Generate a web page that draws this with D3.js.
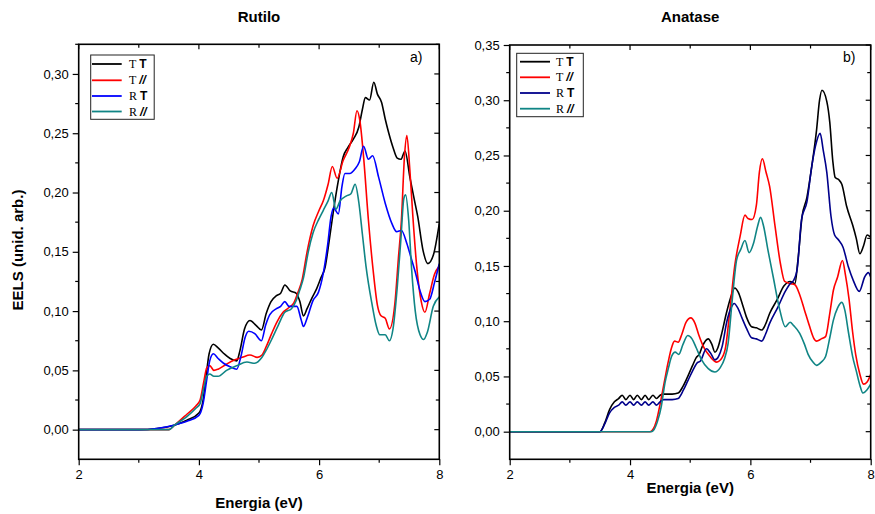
<!DOCTYPE html>
<html><head><meta charset="utf-8">
<script src="https://cdn.jsdelivr.net/npm/d3@7"></script>
<style>body{margin:0;background:#fff}svg{display:block}text{font-family:"Liberation Sans",Arial,sans-serif}</style>
</head><body>
<svg id="c" width="875" height="514"></svg>
<script>
// ---------- DATA ----------
const panelTitles = ["Rutilo", "Anatase"];
const panelTags = ["a)", "b)"];
const xTicks = [2, 4, 6, 8];
const yTicksRutilo = [0, 0.05, 0.10, 0.15, 0.20, 0.25, 0.30];
const yTicksAnatase = [0, 0.05, 0.10, 0.15, 0.20, 0.25, 0.30, 0.35];
const legendMain = ["T", "T", "R", "R"];
const legendSym = ["T", "//", "T", "//"];

const rutTT = [[2,0],[3.0,0],[3.3,0.001],[3.6,0.004],[3.8,0.008],[4.0,0.014],[4.07,0.025],[4.12,0.045],[4.17,0.064],[4.24,0.072],[4.32,0.069],[4.42,0.064],[4.52,0.060],[4.63,0.058],[4.68,0.066],[4.76,0.085],[4.85,0.092],[4.95,0.088],[5.04,0.084],[5.12,0.098],[5.20,0.108],[5.29,0.113],[5.36,0.115],[5.43,0.122],[5.52,0.117],[5.62,0.115],[5.68,0.108],[5.74,0.096],[5.80,0.102],[5.88,0.111],[5.96,0.119],[6.03,0.128],[6.10,0.137],[6.17,0.160],[6.24,0.185],[6.32,0.210],[6.40,0.230],[6.48,0.238],[6.57,0.245],[6.66,0.255],[6.72,0.270],[6.77,0.280],[6.84,0.278],[6.91,0.293],[6.97,0.283],[7.04,0.276],[7.10,0.262],[7.16,0.250],[7.23,0.238],[7.30,0.229],[7.36,0.228],[7.43,0.235],[7.51,0.213],[7.58,0.195],[7.64,0.180],[7.73,0.151],[7.81,0.140],[7.90,0.147],[8.0,0.174]];
const rutTpar = [[2,0],[3.5,0],[3.6,0.004],[3.8,0.013],[3.95,0.020],[4.02,0.025],[4.08,0.040],[4.13,0.052],[4.18,0.054],[4.25,0.050],[4.32,0.051],[4.45,0.055],[4.6,0.059],[4.72,0.061],[4.85,0.063],[4.97,0.061],[5.05,0.063],[5.12,0.070],[5.21,0.081],[5.30,0.091],[5.40,0.099],[5.50,0.103],[5.58,0.107],[5.65,0.116],[5.72,0.127],[5.80,0.150],[5.90,0.172],[6.00,0.185],[6.07,0.193],[6.15,0.207],[6.22,0.222],[6.30,0.212],[6.40,0.227],[6.50,0.238],[6.57,0.250],[6.63,0.269],[6.68,0.260],[6.74,0.230],[6.82,0.177],[6.90,0.134],[6.97,0.105],[7.03,0.096],[7.10,0.094],[7.17,0.085],[7.26,0.106],[7.32,0.145],[7.37,0.177],[7.42,0.230],[7.46,0.248],[7.51,0.219],[7.56,0.180],[7.62,0.140],[7.70,0.108],[7.76,0.099],[7.84,0.115],[7.92,0.131],[8.0,0.138]];
const rutRT = [[2,0],[3.0,0],[3.3,0.001],[3.6,0.004],[3.8,0.007],[4.0,0.012],[4.07,0.022],[4.13,0.042],[4.18,0.058],[4.24,0.064],[4.32,0.060],[4.41,0.056],[4.52,0.053],[4.63,0.051],[4.70,0.062],[4.77,0.078],[4.83,0.083],[4.93,0.081],[5.04,0.075],[5.11,0.088],[5.18,0.097],[5.29,0.102],[5.36,0.104],[5.43,0.108],[5.50,0.104],[5.63,0.104],[5.70,0.093],[5.74,0.087],[5.80,0.094],[5.90,0.109],[5.99,0.116],[6.07,0.132],[6.14,0.155],[6.20,0.180],[6.24,0.187],[6.32,0.182],[6.38,0.205],[6.43,0.216],[6.51,0.216],[6.60,0.220],[6.67,0.226],[6.74,0.239],[6.82,0.228],[6.89,0.231],[6.99,0.213],[7.10,0.191],[7.21,0.174],[7.29,0.167],[7.37,0.168],[7.46,0.157],[7.53,0.145],[7.60,0.133],[7.68,0.117],[7.76,0.108],[7.84,0.110],[7.92,0.124],[8.0,0.140]];
const rutRpar = [[2,0],[3.5,0],[3.6,0.004],[3.8,0.011],[3.95,0.018],[4.02,0.022],[4.08,0.035],[4.13,0.045],[4.18,0.047],[4.25,0.045],[4.32,0.045],[4.46,0.050],[4.63,0.054],[4.80,0.057],[4.93,0.056],[5.05,0.061],[5.12,0.067],[5.20,0.075],[5.32,0.088],[5.43,0.099],[5.54,0.102],[5.62,0.109],[5.68,0.118],[5.74,0.128],[5.82,0.150],[5.90,0.166],[6.00,0.178],[6.07,0.185],[6.15,0.193],[6.21,0.200],[6.28,0.186],[6.35,0.193],[6.45,0.197],[6.53,0.199],[6.60,0.207],[6.66,0.192],[6.72,0.165],[6.78,0.138],[6.88,0.106],[6.95,0.088],[7.01,0.080],[7.10,0.080],[7.17,0.075],[7.23,0.085],[7.30,0.120],[7.36,0.160],[7.41,0.195],[7.44,0.198],[7.49,0.177],[7.54,0.135],[7.60,0.100],[7.68,0.080],[7.74,0.076],[7.80,0.082],[7.90,0.104],[8.0,0.112]];

const anaTT = [[2,0],[3.5,0],[3.58,0.008],[3.66,0.020],[3.74,0.027],[3.81,0.030],[3.87,0.033],[3.93,0.029],[4.00,0.033],[4.06,0.029],[4.12,0.033],[4.19,0.029],[4.25,0.033],[4.31,0.029],[4.38,0.033],[4.44,0.030],[4.50,0.033],[4.56,0.034],[4.70,0.034],[4.80,0.035],[4.88,0.041],[4.96,0.050],[5.04,0.060],[5.10,0.067],[5.15,0.070],[5.20,0.077],[5.30,0.084],[5.36,0.079],[5.41,0.072],[5.46,0.076],[5.52,0.088],[5.60,0.107],[5.67,0.121],[5.74,0.130],[5.80,0.126],[5.87,0.115],[5.94,0.103],[6.02,0.095],[6.10,0.094],[6.19,0.092],[6.25,0.097],[6.32,0.107],[6.44,0.119],[6.56,0.132],[6.66,0.136],[6.74,0.134],[6.79,0.155],[6.86,0.195],[6.94,0.212],[7.02,0.240],[7.10,0.273],[7.15,0.300],[7.19,0.309],[7.27,0.299],[7.32,0.280],[7.37,0.245],[7.41,0.230],[7.47,0.228],[7.52,0.224],[7.60,0.204],[7.70,0.187],[7.76,0.175],[7.82,0.161],[7.88,0.168],[7.94,0.178],[8.0,0.176]];
const anaTpar = [[2,0],[4.33,0],[4.38,0.002],[4.44,0.010],[4.50,0.025],[4.57,0.045],[4.63,0.062],[4.69,0.076],[4.74,0.082],[4.80,0.081],[4.86,0.088],[4.93,0.099],[5.01,0.103],[5.08,0.098],[5.14,0.088],[5.22,0.077],[5.33,0.068],[5.44,0.063],[5.53,0.067],[5.59,0.077],[5.66,0.110],[5.74,0.150],[5.83,0.177],[5.91,0.196],[5.96,0.193],[6.03,0.192],[6.10,0.205],[6.15,0.235],[6.20,0.247],[6.26,0.235],[6.32,0.222],[6.41,0.186],[6.50,0.152],[6.57,0.136],[6.67,0.134],[6.74,0.133],[6.82,0.124],[6.90,0.110],[6.98,0.096],[7.05,0.085],[7.10,0.082],[7.18,0.084],[7.25,0.086],[7.32,0.107],[7.38,0.128],[7.45,0.140],[7.53,0.155],[7.58,0.142],[7.64,0.120],[7.70,0.090],[7.75,0.070],[7.82,0.052],[7.88,0.043],[7.94,0.045],[8.0,0.052]];
const anaRT = [[2,0],[3.5,0],[3.58,0.007],[3.66,0.017],[3.74,0.022],[3.81,0.024],[3.87,0.027],[3.93,0.024],[4.00,0.027],[4.06,0.024],[4.12,0.027],[4.19,0.024],[4.25,0.027],[4.31,0.024],[4.38,0.027],[4.44,0.024],[4.50,0.027],[4.56,0.029],[4.70,0.029],[4.80,0.030],[4.89,0.038],[4.96,0.046],[5.04,0.055],[5.11,0.062],[5.17,0.064],[5.27,0.075],[5.34,0.071],[5.41,0.065],[5.47,0.068],[5.53,0.077],[5.61,0.100],[5.68,0.112],[5.73,0.116],[5.80,0.111],[5.86,0.103],[5.94,0.093],[6.02,0.085],[6.10,0.084],[6.19,0.082],[6.25,0.088],[6.32,0.098],[6.46,0.113],[6.58,0.127],[6.66,0.134],[6.72,0.137],[6.78,0.148],[6.85,0.192],[6.94,0.208],[7.02,0.240],[7.08,0.258],[7.16,0.270],[7.21,0.255],[7.27,0.235],[7.34,0.195],[7.40,0.178],[7.46,0.174],[7.54,0.167],[7.63,0.149],[7.71,0.137],[7.81,0.127],[7.90,0.140],[7.96,0.144],[8.0,0.140]];
const anaRpar = [[2,0],[4.35,0],[4.40,0.002],[4.46,0.010],[4.52,0.023],[4.58,0.044],[4.64,0.058],[4.69,0.068],[4.75,0.072],[4.81,0.070],[4.88,0.079],[4.96,0.087],[5.03,0.084],[5.10,0.076],[5.19,0.065],[5.30,0.057],[5.41,0.054],[5.50,0.058],[5.57,0.066],[5.63,0.080],[5.70,0.120],[5.77,0.155],[5.84,0.165],[5.91,0.173],[5.98,0.162],[6.05,0.170],[6.12,0.186],[6.17,0.194],[6.22,0.186],[6.29,0.165],[6.38,0.140],[6.49,0.110],[6.58,0.095],[6.66,0.099],[6.72,0.096],[6.82,0.089],[6.90,0.079],[6.96,0.070],[7.04,0.063],[7.10,0.060],[7.18,0.063],[7.25,0.068],[7.32,0.085],[7.38,0.101],[7.45,0.112],[7.52,0.117],[7.57,0.110],[7.63,0.090],[7.70,0.068],[7.76,0.055],[7.82,0.042],[7.87,0.035],[7.94,0.038],[8.0,0.043]];

const colorsRutilo = ["#000000", "#ff0000", "#0000ff", "#108585"];
const colorsAnatase = ["#000000", "#ff0000", "#00008b", "#108585"];

// ---------- DRAW ----------
const svg = d3.select("#c");
const fmt = v => d3.format(".2f")(v).replace(".", ",");

const panels = [
  {title: panelTitles[0], tag: panelTags[0], x0: 78.7, x1: 439.3, yTop: 44.3, yBot: 459.3, yDom: [-0.025, 0.325], yTicks: yTicksRutilo,
   series: [rutTT, rutTpar, rutRT, rutRpar], colors: colorsRutilo, titleY: 22, xlabY: 508, tagX: 410, tagY: 62,
   leg: {x: 90.7, y: 55, w: 63.5, h: 64.3, rows: [64, 80.3, 96, 111.5], lx0: 92, lx1: 121.7, tx: 129}},
  {title: panelTitles[1], tag: panelTags[1], x0: 509.7, x1: 870.7, yTop: 45, yBot: 459.3, yDom: [-0.025, 0.35], yTicks: yTicksAnatase,
   series: [anaTT, anaTpar, anaRT, anaRpar], colors: colorsAnatase, titleY: 22, xlabY: 493, tagX: 843, tagY: 62,
   leg: {x: 516.7, y: 53.3, w: 66.6, h: 63.4, rows: [61.7, 77.3, 93, 108.7], lx0: 520, lx1: 550, tx: 556}}
];

svg.append("text").attr("transform", "translate(23,250) rotate(-90)").attr("text-anchor", "middle")
  .style("font-size", "15px").style("font-weight", "bold").text("EELS (unid. arb.)");

panels.forEach((p, i) => {
  const x = d3.scaleLinear().domain([2, 8]).range([p.x0, p.x1]);
  const y = d3.scaleLinear().domain(p.yDom).range([p.yBot, p.yTop]);
  const g = svg.append("g");
  const cx = (p.x0 + p.x1) / 2;

  g.append("text").attr("x", cx).attr("y", p.titleY).attr("text-anchor", "middle")
    .style("font-size", "15px").style("font-weight", "bold").text(p.title);
  g.append("text").attr("x", cx).attr("y", p.xlabY).attr("text-anchor", "middle")
    .style("font-size", "15px").style("font-weight", "bold").text("Energia (eV)");

  const clipId = "clip" + i;
  svg.append("clipPath").attr("id", clipId).append("rect")
    .attr("x", p.x0).attr("y", p.yTop).attr("width", p.x1 - p.x0).attr("height", p.yBot - p.yTop);

  const line = d3.line().x(d => x(d[0])).y(d => y(d[1])).curve(d3.curveMonotoneX);
  const lg = g.append("g").attr("clip-path", `url(#${clipId})`);
  p.series.forEach((s, k) => {
    lg.append("path").datum(s).attr("d", line).attr("fill", "none")
      .attr("stroke", p.colors[k]).attr("stroke-width", 1.6).attr("stroke-linejoin", "round");
  });

  // axes
  const xMinor = d3.range(2, 8.01, 1);
  const yMinor = d3.range(0, p.yDom[1] + 1e-9, 0.025);
  const bottom = d3.axisBottom(x).tickValues(xTicks).tickSize(6).tickPadding(4).tickFormat(d3.format("d"));
  const left = d3.axisLeft(y).tickValues(p.yTicks).tickSize(6).tickPadding(4).tickFormat(fmt);
  const bg = g.append("g").attr("transform", `translate(0,${p.yBot})`).call(bottom);
  const lgx = g.append("g").attr("transform", `translate(${p.x0},0)`).call(left);
  [bg, lgx].forEach(a => {
    a.select(".domain").remove();
    a.selectAll("text").style("font-size", "13px").style("font-family", "'Liberation Sans',Arial,sans-serif").attr("fill", "#000");
    a.selectAll("line").attr("stroke", "#000").attr("stroke-width", 1.2);
  });
  // minor ticks
  xMinor.filter(v => !xTicks.includes(v)).forEach(v => {
    g.append("line").attr("x1", x(v)).attr("x2", x(v)).attr("y1", p.yBot).attr("y2", p.yBot + 3.5).attr("stroke", "#000").attr("stroke-width", 1.2);
  });
  yMinor.forEach(v => {
    if (p.yTicks.some(t => Math.abs(t - v) < 1e-6)) return;
    g.append("line").attr("x1", p.x0 - 3.5).attr("x2", p.x0).attr("y1", y(v)).attr("y2", y(v)).attr("stroke", "#000").attr("stroke-width", 1.2);
  });
  // mirrored ticks (inward) on top and right
  xMinor.forEach(v => {
    const len = xTicks.includes(v) ? 5 : 3.5;
    g.append("line").attr("x1", x(v)).attr("x2", x(v)).attr("y1", p.yTop).attr("y2", p.yTop + len).attr("stroke", "#000").attr("stroke-width", 1.2);
  });
  yMinor.forEach(v => {
    const len = p.yTicks.some(t => Math.abs(t - v) < 1e-6) ? 5 : 3.5;
    g.append("line").attr("x1", p.x1 - len).attr("x2", p.x1).attr("y1", y(v)).attr("y2", y(v)).attr("stroke", "#000").attr("stroke-width", 1.2);
  });
  // frame
  g.append("rect").attr("x", p.x0).attr("y", p.yTop).attr("width", p.x1 - p.x0).attr("height", p.yBot - p.yTop)
    .attr("fill", "none").attr("stroke", "#000").attr("stroke-width", 1.6);

  // tag
  g.append("text").attr("x", p.tagX).attr("y", p.tagY).style("font-size", "14px").text(p.tag);

  // legend
  const L = p.leg;
  g.append("rect").attr("x", L.x).attr("y", L.y).attr("width", L.w).attr("height", L.h)
    .attr("fill", "#fff").attr("stroke", "#222").attr("stroke-width", 1);
  L.rows.forEach((ry, k) => {
    g.append("line").attr("x1", L.lx0).attr("x2", L.lx1).attr("y1", ry).attr("y2", ry)
      .attr("stroke", p.colors[k]).attr("stroke-width", 1.8);
    const t = g.append("text").attr("x", L.tx).attr("y", ry + 4).style("font-size", "12px");
    t.append("tspan").style("font-family", "'Liberation Serif','Times New Roman',serif").text(legendMain[k] + " ");
    t.append("tspan").style("font-weight", "bold").style("font-style", legendSym[k] === "//" ? "italic" : "normal").text(legendSym[k]);
  });
});
</script>
</body></html>
